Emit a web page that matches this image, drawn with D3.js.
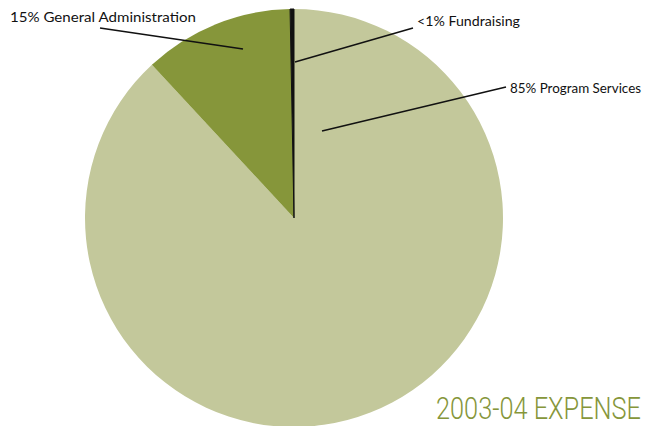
<!DOCTYPE html>
<html>
<head>
<meta charset="utf-8">
<script src="https://cdn.jsdelivr.net/npm/d3@7"></script>
<style>
  body { margin: 0; background: #fff; }
  svg { display: block; }
</style>
</head>
<body>
<script>
// expense pie, 2003-04

var w = 646;
var h = 426;

// categories, drawn shares and label texts
var categories = ["Program Services", "General Administration", "Fundraising"];
var shares = [88.1, 11.6, 0.3];
var labels = ["85% Program Services", "15% General Administration", "<1% Fundraising"];
var colors = ["#c3c89b", "#86963a", "#111111"];

var svg = d3.select("body")
    .append("svg")
    .attr("width", w)
    .attr("height", h);

var cx = 294, cy = 218, r = 209;

var pie = d3.pie().sort(null).value(function(d) { return d; });
var arc = d3.arc().innerRadius(0).outerRadius(r);

var g = svg.append("g").attr("transform", "translate(" + cx + "," + cy + ")");

g.selectAll(".slice")
    .data(pie(shares))
    .enter()
    .append("path")
    .attr("class", "slice")
    .attr("d", arc)
    .attr("fill", function(d, i) { return colors[i]; })
    .attr("stroke", function(d, i) { return i == 2 ? "#111" : "none"; })
    .attr("stroke-width", 1);

// leader lines: start inside the wedge, end by the label
var leaders = [
    { x1: 322, y1: 131, x2: 506, y2: 87 },
    { x1: 243, y1: 49, x2: 100, y2: 28 },
    { x1: 295, y1: 62, x2: 413, y2: 28 }
];
var labelPos = [
    { x: 510, y: 93, len: 131 },
    { x: 10, y: 22, len: 186 },
    { x: 417, y: 26, len: 103 }
];

svg.selectAll(".leader")
    .data(leaders)
    .enter()
    .append("line")
    .attr("class", "leader")
    .attr("x1", function(d) { return d.x1; })
    .attr("y1", function(d) { return d.y1; })
    .attr("x2", function(d) { return d.x2; })
    .attr("y2", function(d) { return d.y2; })
    .attr("stroke", "#111")
    .attr("stroke-width", 1.5);

svg.selectAll(".lbl")
    .data(labels)
    .enter()
    .append("text")
    .attr("class", "lbl")
    .attr("x", function(d, i) { return labelPos[i].x; })
    .attr("y", function(d, i) { return labelPos[i].y; })
    .attr("font-family", "Lato, 'Open Sans', sans-serif")
    .attr("font-size", 14)
    .attr("fill", "#111")
    .attr("textLength", function(d, i) { return labelPos[i].len; })
    .attr("lengthAdjust", "spacingAndGlyphs")
    .text(function(d) { return d; });

svg.append("text")
    .attr("x", 436)
    .attr("y", 419)
    .attr("font-family", "Roboto, 'Open Sans', sans-serif")
    .attr("font-weight", 300)
    .attr("font-size", 32)
    .attr("fill", "#86963a")
    .attr("textLength", 205)
    .attr("lengthAdjust", "spacingAndGlyphs")
    .text("2003-04 EXPENSE");
</script>
</body>
</html>
